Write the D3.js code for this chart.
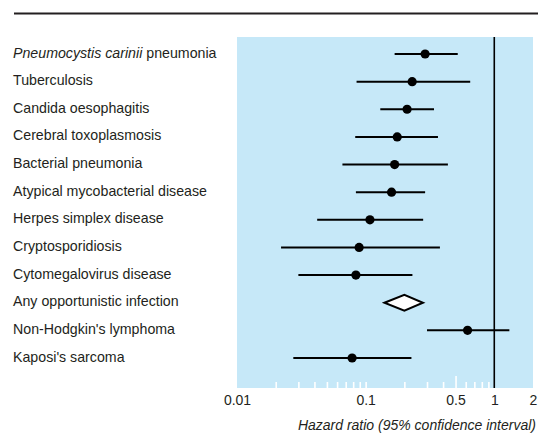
<!DOCTYPE html>
<html>
<head>
<meta charset="utf-8">
<script src="https://cdn.jsdelivr.net/npm/d3@7"></script>
<style>
  body { margin: 0; background: #fff; }
  text { font-family: "Liberation Sans", Arial, sans-serif; fill: #231f20; }
</style>
</head>
<body>
<div id="chart"></div>
<script>
// outcomes, top to bottom
var outcomes = ["Pneumocystis carinii pneumonia", "Tuberculosis", "Candida oesophagitis",
  "Cerebral toxoplasmosis", "Bacterial pneumonia", "Atypical mycobacterial disease",
  "Herpes simplex disease", "Cryptosporidiosis", "Cytomegalovirus disease",
  "Any opportunistic infection", "Non-Hodgkin's lymphoma", "Kaposi's sarcoma"];
var hazard = [0.29, 0.23, 0.21, 0.176, 0.168, 0.159, 0.108, 0.089, 0.084, 0.20, 0.62, 0.0785];
var ciLow  = [0.168, 0.085, 0.13, 0.083, 0.066, 0.084, 0.042, 0.022, 0.030, 0.14, 0.30, 0.0274];
var ciHigh = [0.52, 0.65, 0.34, 0.365, 0.436, 0.29, 0.28, 0.378, 0.231, 0.279, 1.31, 0.227];
var pooled = [false, false, false, false, false, false, false, false, false, true, false, false];

var tickLabels = [0.01, 0.1, 0.5, 1, 2];
var minorTicks = [0.02, 0.03, 0.04, 0.05, 0.06, 0.07, 0.08, 0.09, 0.1,
  0.2, 0.3, 0.4, 0.6, 0.7, 0.8, 0.9];
var majorTick = [0.5];

var svgWidth = 538;
var svgHeight = 434;
var panel = {left: 237, right: 533, top: 37, bottom: 388};

var svg = d3.select("#chart")
  .append("svg")
    .attr("width", svgWidth)
    .attr("height", svgHeight);

var data = outcomes.map(function(d, i) {
  return {name: d, hr: hazard[i], lo: ciLow[i], hi: ciHigh[i], pooled: pooled[i], i: i};
});

var x = d3.scaleLog()
  .domain([0.01, 2])
  .range([panel.left, panel.right]);

var y = d3.scalePoint()
  .domain(d3.range(outcomes.length))
  .range([54, 358]);

// top rule
svg.append("line")
  .attr("x1", 14).attr("x2", svgWidth)
  .attr("y1", 13.5).attr("y2", 13.5)
  .attr("stroke", "#231f20")
  .attr("stroke-width", 2);

// blue panel
svg.append("rect")
  .attr("x", x(0.01))
  .attr("y", panel.top)
  .attr("width", x(2) - x(0.01))
  .attr("height", panel.bottom - panel.top)
  .attr("fill", "#c6e8f8");

// white minor ticks inside the panel
var minorAxis = svg.append("g")
  .attr("transform", `translate(0, ${panel.bottom})`)
  .call(d3.axisBottom(x).tickValues(minorTicks).tickSize(-6).tickFormat(""));
var majorAxis = svg.append("g")
  .attr("transform", `translate(0, ${panel.bottom})`)
  .call(d3.axisBottom(x).tickValues(majorTick).tickSize(-12).tickFormat(""));
svg.selectAll(".domain").remove();
[minorAxis, majorAxis].forEach(function(g) {
  g.selectAll("line").attr("stroke", "#fff").attr("stroke-width", 1.6);
});

// line of no effect
svg.append("line")
  .attr("x1", x(1)).attr("x2", x(1))
  .attr("y1", panel.top).attr("y2", panel.bottom)
  .attr("stroke", "#000")
  .attr("stroke-width", 1.6);

// tick labels
var labelAxis = svg.append("g")
  .attr("transform", `translate(0, ${panel.bottom})`)
  .call(d3.axisBottom(x).tickValues(tickLabels).tickSize(0).tickPadding(7)
    .tickFormat(function(d) { return String(d); }));
labelAxis.select(".domain").remove();
labelAxis.selectAll("text")
  .attr("font-size", "14px")
  .attr("font-family", "Liberation Sans, Arial, sans-serif")
  .attr("fill", "#231f20");

// confidence intervals
var rows = data.filter(function(d) { return !d.pooled; });
svg.selectAll(".ci")
  .data(rows)
  .enter()
  .append("line")
  .attr("class", "ci")
  .attr("x1", d => x(d.lo))
  .attr("x2", d => x(d.hi))
  .attr("y1", d => y(d.i))
  .attr("y2", d => y(d.i))
  .attr("stroke", "#000")
  .attr("stroke-width", 2);

svg.selectAll(".pt")
  .data(rows)
  .enter()
  .append("circle")
  .attr("class", "pt")
  .attr("cx", d => x(d.hr))
  .attr("cy", d => y(d.i))
  .attr("r", 4.6)
  .attr("fill", "#000");

// pooled estimate diamond
svg.selectAll(".diamond")
  .data(data.filter(function(d) { return d.pooled; }))
  .enter()
  .append("path")
  .attr("class", "diamond")
  .attr("d", function(d) {
    var cy = y(d.i);
    return `M${x(d.lo)},${cy} L${x(d.hr)},${cy - 8} L${x(d.hi)},${cy} L${x(d.hr)},${cy + 8} Z`;
  })
  .attr("fill", "#fff")
  .attr("stroke", "#000")
  .attr("stroke-width", 2)
  .attr("stroke-linejoin", "miter");

// row labels
var labels = svg.selectAll(".lab")
  .data(data)
  .enter()
  .append("text")
  .attr("class", "lab")
  .attr("x", 13)
  .attr("y", d => y(d.i) + 3.5)
  .attr("font-size", "14.2px");

labels.each(function(d) {
  var t = d3.select(this);
  if (d.i === 0) {
    t.append("tspan").attr("font-style", "italic").text("Pneumocystis carinii");
    t.append("tspan").text(" pneumonia");
  } else {
    t.text(d.name);
  }
});

// axis title
svg.append("text")
  .attr("x", 536)
  .attr("y", 430)
  .attr("text-anchor", "end")
  .attr("font-size", "14px")
  .attr("font-style", "italic")
  .text("Hazard ratio (95% confidence interval)");
</script>
</body>
</html>
